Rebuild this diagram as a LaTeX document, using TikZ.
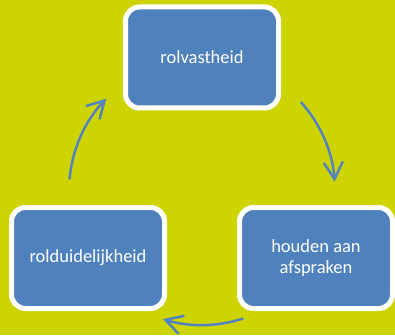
\documentclass[tikz,border=0pt]{standalone}
\usepackage{fontspec}
\setmainfont{Carlito}
\usetikzlibrary{arrows.meta}
\definecolor{bgyellow}{RGB}{205,212,0}
\definecolor{boxblue}{RGB}{79,129,189}
\definecolor{arrowblue}{RGB}{84,132,192}
\begin{document}
\begin{tikzpicture}[x=1pt,y=1pt,
   stage/.style={draw=white,line width=5pt,fill=boxblue,rounded corners=14pt,
      minimum width=153pt,minimum height=101pt,text=white,align=center,
      font=\fontsize{18.5}{21}\selectfont},
   cycle arrow/.style={draw=arrowblue,line width=2.5pt,
      -{Straight Barb[length=17pt,width=19pt]}}]
\fill[bgyellow] (0,0) rectangle (395,335);
\useasboundingbox (0,0) rectangle (395,335);
% the three stages
\node[stage] (vast) at (202,277.5) {rolvastheid};
\node[stage] (afspr) at (316,77) {houden aan\\afspraken};
\node[stage] (duid) at (88,77) {rolduidelijkheid};
% arrows on a circle round the middle
\coordinate (mid) at (202,144);
\coordinate (s1) at ([shift={(42:133)}]mid);
\coordinate (s2) at ([shift={(-72:134)}]mid);
\coordinate (s3) at ([shift={(175:133)}]mid);
\draw[cycle arrow] (s1) arc[start angle=42,end angle=4,radius=133];
\draw[cycle arrow] (s2) arc[start angle=-72,end angle=-107,radius=134];
\draw[cycle arrow] (s3) arc[start angle=175,end angle=136,radius=133];
\end{tikzpicture}
\end{document}
